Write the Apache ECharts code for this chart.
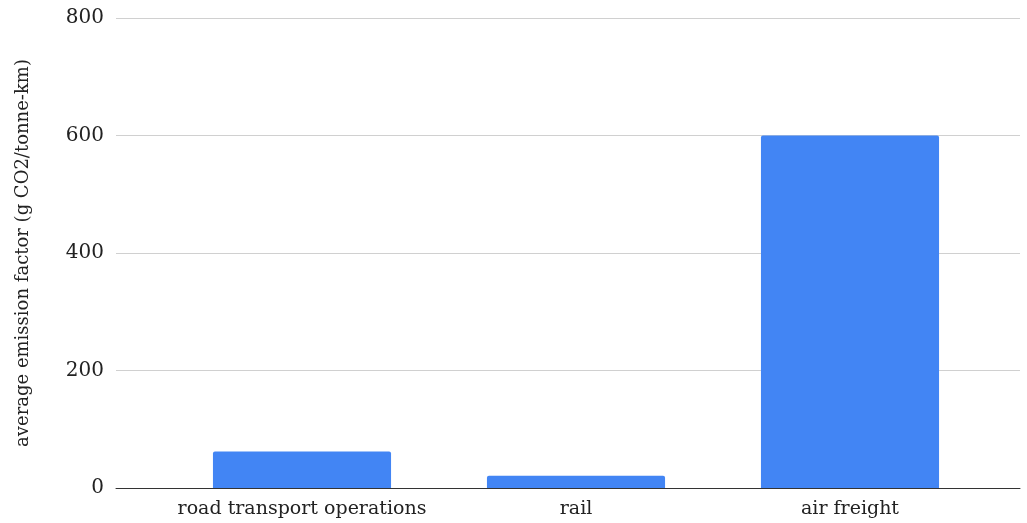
<!DOCTYPE html>
<html>
<head>
<meta charset="utf-8">
<script src="https://cdn.jsdelivr.net/npm/echarts@6/dist/echarts.min.js"></script>
<style>html,body{margin:0;padding:0;background:#fff}#c{width:1027px;height:523px}</style>
</head>
<body>
<div id="c"></div>
<script>
const categories = ["road transport operations", "rail", "air freight"];
const emissionValues = [62, 21, 600];
const yMin = 0, yMax = 800, yInterval = 200;
const yAxisName = "average emission factor (g CO2/tonne-km)";

const FONT = "'DejaVu Serif', 'Liberation Serif', serif";
const chart = echarts.init(document.getElementById('c'), null, {renderer: 'canvas'});
chart.setOption({
  animation: false,
  backgroundColor: '#ffffff',
  grid: [
    {left: 116, right: 7, top: 18, bottom: 35},
    {left: 165, right: 40, top: 18, bottom: 35}
  ],
  xAxis: [
    {gridIndex: 0, type: 'value', min: 0, max: 1, show: true,
     axisLine: {show: true, onZero: false, lineStyle: {color: '#333', width: 1}},
     axisTick: {show: false}, axisLabel: {show: false}, splitLine: {show: false}},
    {gridIndex: 1, type: 'category', data: categories,
     axisLine: {show: false}, axisTick: {show: false},
     axisLabel: {interval: 0, color: '#222', fontFamily: FONT, fontSize: 19, margin: 12}}
  ],
  yAxis: [
    {gridIndex: 0, type: 'value', min: yMin, max: yMax, interval: yInterval,
     name: yAxisName, nameLocation: 'middle', nameGap: 84,
     nameTextStyle: {color: '#222', fontFamily: FONT, fontSize: 18},
     axisLine: {show: false}, axisTick: {show: false},
     axisLabel: {color: '#222', fontFamily: FONT, fontSize: 20, margin: 12},
     splitLine: {lineStyle: {color: '#d0d0d0', width: 1}}},
    {gridIndex: 1, type: 'value', min: yMin, max: yMax, interval: yInterval, show: false,
     splitLine: {show: false}}
  ],
  series: [{
    type: 'bar', xAxisIndex: 1, yAxisIndex: 1, data: emissionValues,
    barCategoryGap: '35%',
    itemStyle: {color: '#4285f4', borderRadius: [2, 2, 0, 0]},
    z: 1
  }]
});
</script>
</body>
</html>
